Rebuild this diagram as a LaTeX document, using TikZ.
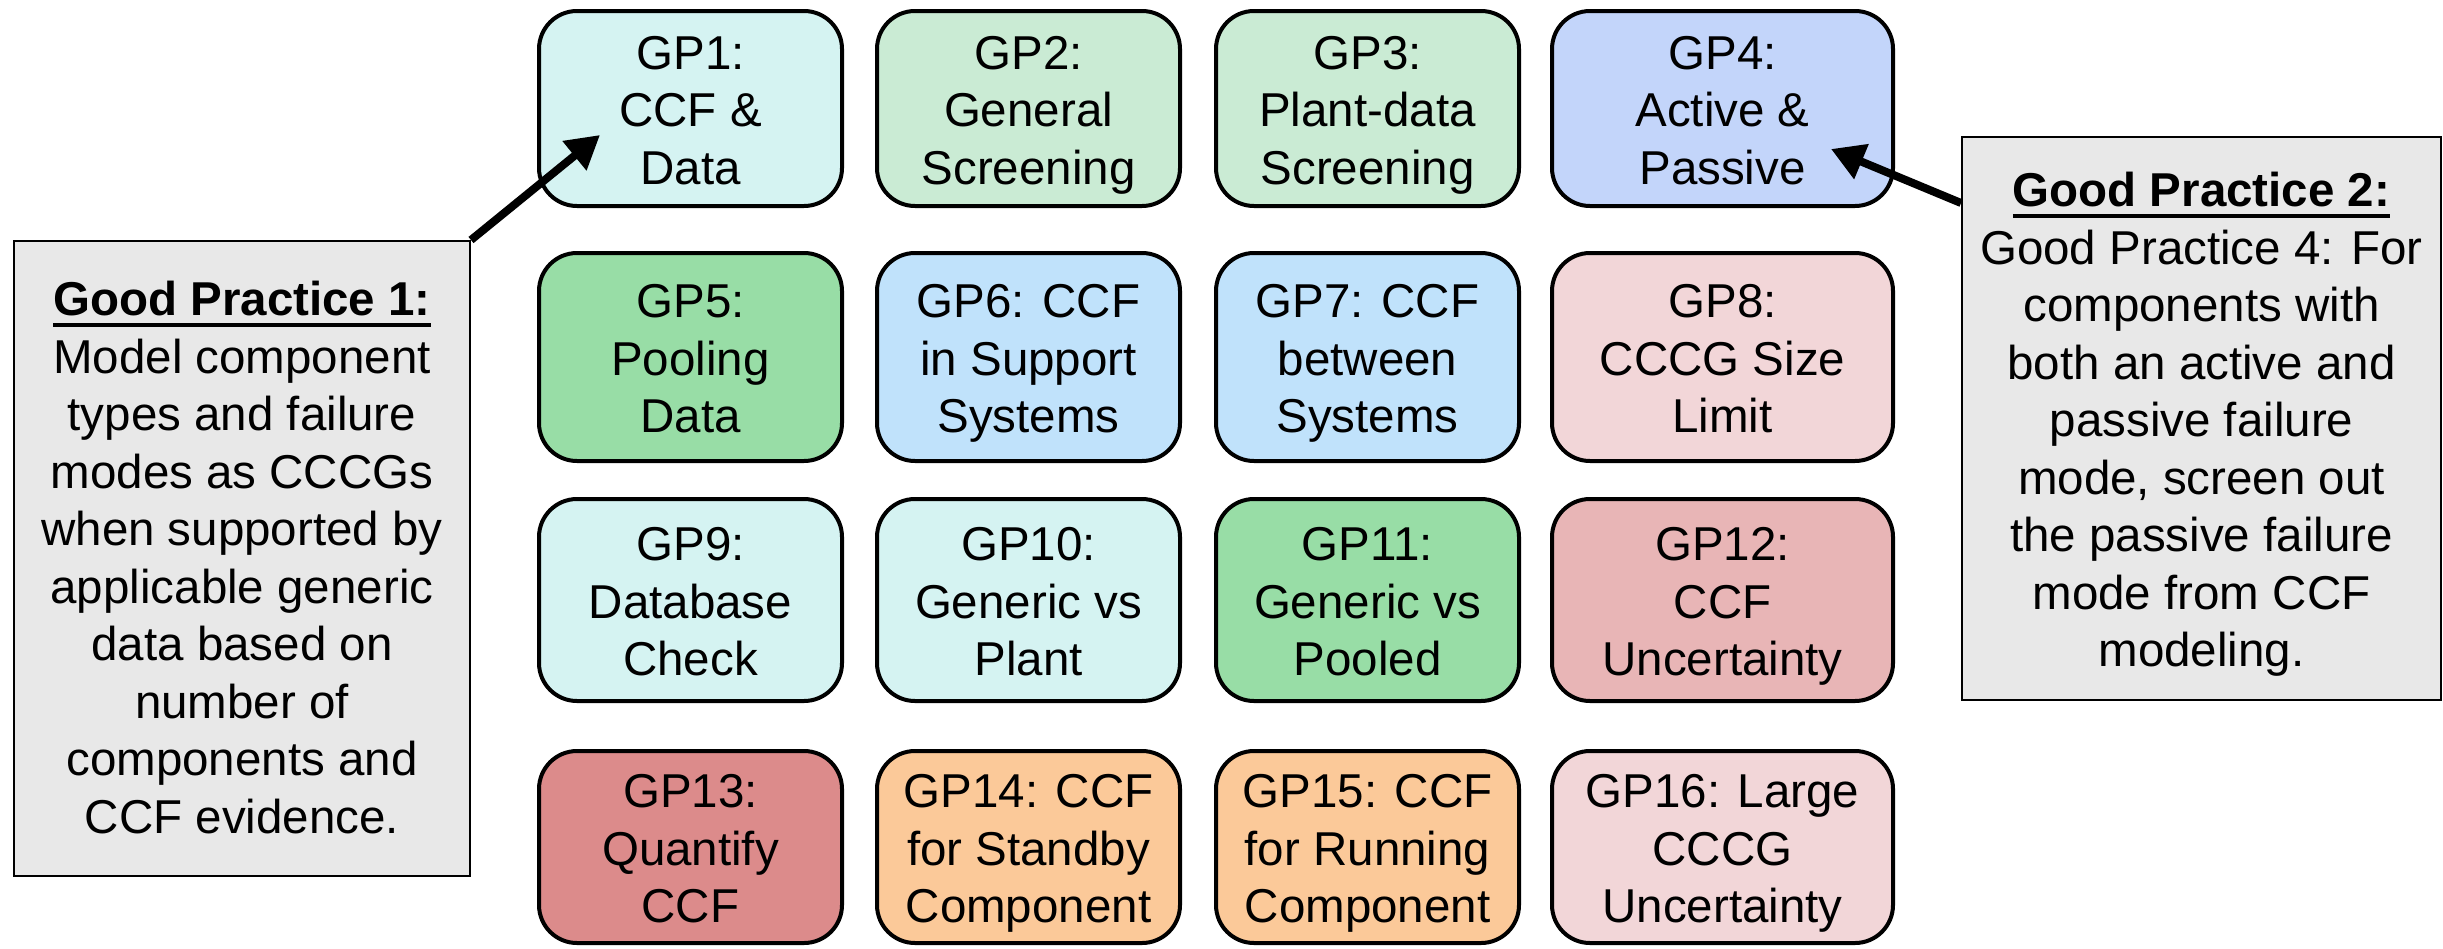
\documentclass[tikz,border=0pt]{standalone}
\usepackage{fontspec}
\setmainfont{Liberation Sans}
\usetikzlibrary{arrows.meta}
\definecolor{cyanL}{HTML}{D5F3F2}
\definecolor{greenL}{HTML}{CAEBD4}
\definecolor{violetL}{HTML}{C3D5FA}
\definecolor{greenM}{HTML}{98DDA6}
\definecolor{blueL}{HTML}{C0E2FB}
\definecolor{pinkL}{HTML}{F2D6D8}
\definecolor{pinkM}{HTML}{E8B5B6}
\definecolor{redM}{HTML}{DC8B8B}
\definecolor{orangeL}{HTML}{FBC999}
\definecolor{calloutgray}{HTML}{E8E8E8}
\newcommand\myul[1]{\setbox0\hbox{#1}\rlap{\rule[-11pt]{\wd0}{3.5pt}}\box0}
\newcommand\mystrut{\rule[-10pt]{0pt}{10pt}}
\newcommand\ts{\rule{0pt}{46pt}}
\begin{document}
\begin{tikzpicture}[x=1pt,y=-1pt,
  gp/.style={draw=black, line width=4pt, rounded corners=38pt, align=center, inner sep=0pt,
    font=\fontsize{47.5}{57.5}\selectfont, execute at end node=\mystrut},
  cw/.style={minimum width=303pt},
  cwide/.style={minimum width=341pt},
  rA/.style={minimum height=195pt},
  rB/.style={minimum height=208pt},
  rC/.style={minimum height=202pt},
  rD/.style={minimum height=192pt},
  callout/.style={draw=black, line width=2pt, fill=calloutgray, align=center, inner sep=0pt,
    font=\fontsize{47.5}{57.5}\selectfont, execute at end node=\mystrut},
  pointer/.style={line width=8pt, -{Triangle[length=33pt,width=36pt]}}]
\useasboundingbox (0,0) rectangle (2443,948);
% row 1
\node[gp, cw, rA, fill=cyanL]    (gp1)  at (690.5,108.5)  {\ts GP1:\\CCF \&\\Data};
\node[gp, cw, rA, fill=greenL]   (gp2)  at (1028.5,108.5) {\ts GP2:\\General\\Screening};
\node[gp, cw, rA, fill=greenL]   (gp3)  at (1367.5,108.5) {\ts GP3:\\Plant-data\\Screening};
\node[gp, cwide, rA, fill=violetL] (gp4) at (1722.5,108.5) {\ts GP4:\\Active \&\\Passive};
% row 2
\node[gp, cw, rB, fill=greenM]   (gp5)  at (690.5,357)  {\ts GP5:\\Pooling\\Data};
\node[gp, cw, rB, fill=blueL]    (gp6)  at (1028.5,357) {\ts GP6: CCF\\in Support\\Systems};
\node[gp, cw, rB, fill=blueL]    (gp7)  at (1367.5,357) {\ts GP7: CCF\\between\\Systems};
\node[gp, cwide, rB, fill=pinkL] (gp8)  at (1722.5,357) {\ts GP8:\\CCCG Size\\Limit};
% row 3
\node[gp, cw, rC, fill=cyanL]    (gp9)  at (690.5,600)  {\ts GP9:\\Database\\Check};
\node[gp, cw, rC, fill=cyanL]    (gp10) at (1028.5,600) {\ts GP10:\\Generic vs\\Plant};
\node[gp, cw, rC, fill=greenM]   (gp11) at (1367.5,600) {\ts GP11:\\Generic vs\\Pooled};
\node[gp, cwide, rC, fill=pinkM] (gp12) at (1722.5,600) {\ts GP12:\\CCF\\Uncertainty};
% row 4
\node[gp, cw, rD, fill=redM]     (gp13) at (690.5,847)  {\ts GP13:\\Quantify\\CCF};
\node[gp, cw, rD, fill=orangeL]  (gp14) at (1028.5,847) {\ts GP14: CCF\\for Standby\\Component};
\node[gp, cw, rD, fill=orangeL]  (gp15) at (1367.5,847) {\ts GP15: CCF\\for Running\\Component};
\node[gp, cwide, rD, fill=pinkL] (gp16) at (1722.5,847) {\ts GP16: Large\\CCCG\\Uncertainty};
% callouts
\node[callout, minimum width=456pt, minimum height=635pt] (cp1) at (242,558.5)
  {\rule{0pt}{42pt}\myul{\textbf{Good Practice 1:}}\\Model component\\types and failure\\modes as CCCGs\\when supported by\\applicable generic\\data based on\\number of\\components and\\CCF evidence.};
\node[callout, minimum width=479pt, minimum height=563pt] (cp2) at (2201.5,418.5)
  {\ts\myul{\textbf{Good Practice 2:}}\\Good Practice 4: For\\components with\\both an active and\\passive failure\\mode, screen out\\the passive failure\\mode from CCF\\modeling.};
% pointers
\coordinate (t1) at (600,135);
\coordinate (s2) at (1961,203);
\coordinate (t2) at (1831,149);
\draw[pointer] (cp1.north east) -- (t1);
\draw[pointer] (s2) -- (t2);
\end{tikzpicture}
\end{document}
